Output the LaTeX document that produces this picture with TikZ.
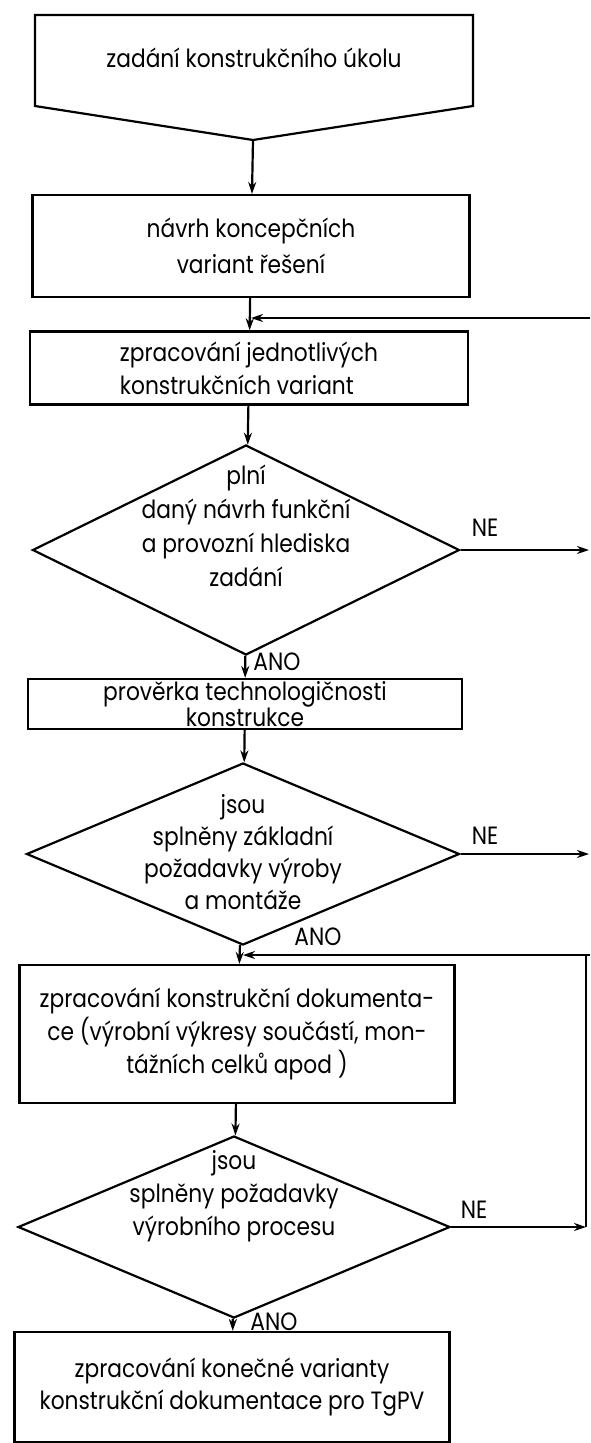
\documentclass[tikz,border=0pt]{standalone}
\usepackage{fontspec}
\setmainfont{Poppins}[FakeStretch=0.87]
\usetikzlibrary{shapes.geometric,arrows.meta}

\begin{document}
\begin{tikzpicture}[x=1pt,y=-1pt,
  font=\fontsize{25}{36}\selectfont,
  box/.style={draw, line width=2.2pt, align=center},
  decision/.style={draw, diamond, line width=2.2pt, inner sep=0pt},
  flow/.style={line width=2.2pt, -{Stealth[length=12pt,width=8pt]}},
  answer/.style={font=\fontsize{25}{30}\selectfont}]

\useasboundingbox (0,0) rectangle (590,1443);

\draw[line width=2.2pt] (35,15) -- (473,15) -- (473,106) -- (253,140) -- (35,106) -- cycle;
\node (start) at (254,58) {zadání konstrukčního úkolu};
\coordinate (starttip) at (253,140);

\node[box, minimum width=437pt, minimum height=102pt] (b2) at (251,246) {návrh koncepčních\\variant řešení};
\node[box, minimum width=438pt, minimum height=73pt, align=left, font=\fontsize{25}{33}\selectfont] (b3) at (249,368) {zpracování jednotlivých\\konstrukčních variant};

\node[decision, minimum width=427pt, minimum height=210pt] (d1) at (246,550) {};
\node[align=center, font=\fontsize{25}{34}\selectfont] (d1text) at (246,526) {plní\\daný návrh funkční\\a provozní hlediska\\zadání};

\node[box, minimum width=434pt, minimum height=50pt, inner ysep=0pt, font=\fontsize{25}{25}\selectfont] (b4) at (245,704) {prověrka technologičnosti\\konstrukce};

\node[decision, minimum width=433pt, minimum height=182pt] (d2) at (243,854) {};
\node[align=center, font=\fontsize{25}{32}\selectfont] (d2text) at (243,852) {jsou\\splněny základní\\požadavky výroby\\a montáže};

\node[box, minimum width=435pt, minimum height=138pt, font=\fontsize{25}{33}\selectfont] (b5) at (237,1034) {zpracování konstrukční dokumenta-\\ce (výrobní výkresy součástí, mon-\\tážních celků apod )};

\node[decision, minimum width=432pt, minimum height=182pt] (d3) at (234,1227) {};
\node[align=center, font=\fontsize{25}{33}\selectfont] (d3text) at (234,1196) {jsou\\splněny požadavky\\výrobního procesu};

\node[box, minimum width=435pt, minimum height=110pt, font=\fontsize{25}{32}\selectfont] (b6) at (232,1387) {zpracování konečné varianty\\konstrukční dokumentace pro TgPV};

\node[answer] (ne1) at (485,528) {NE};
\node[answer] (ne2) at (485,836) {NE};
\node[answer] (ne3) at (474,1210) {NE};
\node[answer] (ano1) at (277,662) {ANO};
\node[answer] (ano2) at (318,937) {ANO};
\node[answer] (ano3) at (274,1322) {ANO};

\coordinate (out1) at (589,550);
\coordinate (out2) at (589,854);
\coordinate (in1) at (590,318);
\coordinate (in2) at (590,955);
\coordinate (loop3) at (586,1227);

\draw[flow] (starttip) -- (b2);
\draw[flow] (b2) -- (b3);
\draw[flow] (b3) -- (d1);
\draw[flow] (d1) -- (b4);
\draw[flow] (b4) -- (d2);
\draw[flow] (d2) -- (b5);
\draw[flow] (b5) -- (d3);
\draw[flow] (d3) -- (b6);

\draw[flow] (d1.east) -- (out1);
\draw[flow] (d2.east) -- (out2);
\draw[flow] (in1) -- (in1 -| b2.south);
\draw[flow] (d3.east) -- (loop3);
\draw[line width=2.2pt] (loop3) -- (loop3 |- in2);
\draw[flow] (in2) -- (in2 -| d2.south);
\end{tikzpicture}
\end{document}
